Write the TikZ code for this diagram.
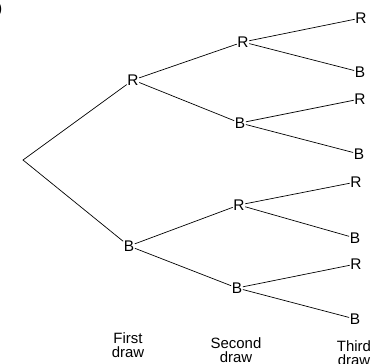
\documentclass[tikz,border=0pt]{standalone}
\usepackage{fontspec}
\setmainfont{Liberation Sans}
\begin{document}
\begin{tikzpicture}[x=1bp,y=-1bp,
  lbl/.style={inner sep=0.5pt, font=\fontsize{15.5}{15}\selectfont},
  caption/.style={align=center, font=\fontsize{15}{15}\selectfont, inner sep=0pt},
  br/.style={line width=0.7pt}]
\useasboundingbox (0,0) rectangle (373,364);
\node[lbl, anchor=east] (paren) at (3,9) {)};
\coordinate (root) at (23,160);
\node[lbl] (r1) at (133,80) {R};
\node[lbl] (b1) at (129,246) {B};
\node[lbl] (r2a) at (243,42) {R};
\node[lbl] (b2a) at (240,123) {B};
\node[lbl] (r2b) at (239,205) {R};
\node[lbl] (b2b) at (237,288) {B};
\node[lbl] (l1) at (361,18) {R};
\node[lbl] (l2) at (360,72) {B};
\node[lbl] (l3) at (360,99) {R};
\node[lbl] (l4) at (359,154) {B};
\node[lbl] (l5) at (356,182) {R};
\node[lbl] (l6) at (355,238) {B};
\node[lbl] (l7) at (356,264) {R};
\node[lbl] (l8) at (355,319) {B};
\draw[br] (r1) -- (root) -- (b1);
\draw[br] (r2a) -- (r1) -- (b2a);
\draw[br] (r2b) -- (b1) -- (b2b);
\draw[br] (l1) -- (r2a) -- (l2);
\draw[br] (l3) -- (b2a) -- (l4);
\draw[br] (l5) -- (r2b) -- (l6);
\draw[br] (l7) -- (b2b) -- (l8);
\node[caption, anchor=north] (c1) at (128,332) {First\\draw};
\node[caption, anchor=north] (c2) at (236,337) {Second\\draw};
\node[caption, anchor=north] (c3) at (354,340) {Third\\draw};
\end{tikzpicture}
\end{document}
